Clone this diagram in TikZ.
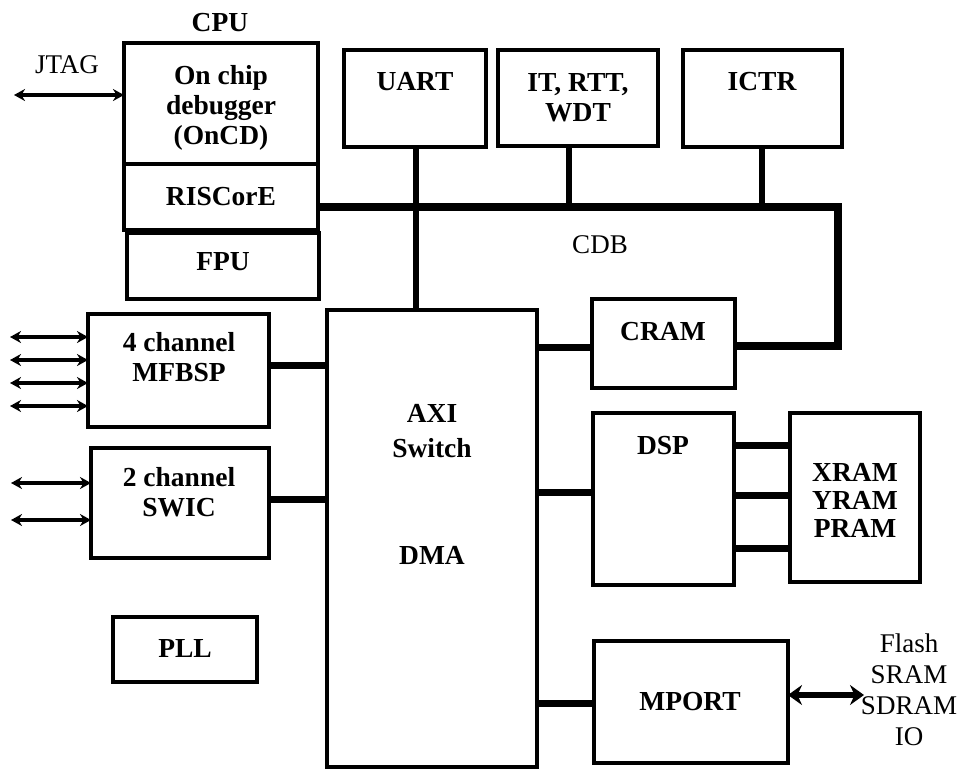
\documentclass[tikz,border=0pt]{standalone}
\usepackage{fontspec}
\setmainfont{Liberation Serif}
\usetikzlibrary{arrows.meta}
\tikzset{
  box/.style={draw, line width=4pt, inner sep=0pt, outer sep=0pt},
  lbl/.style={font=\fontsize{27.5}{30}\selectfont\bfseries, align=center, inner sep=0pt},
  plain/.style={font=\fontsize{27}{30}\selectfont, align=center, inner sep=0pt},
  conn/.style={line width=7pt},
  bus/.style={line width=8pt},
  stem/.style={line width=6pt},
  sig/.style={line width=3.5pt, {Stealth[length=11pt,width=12pt]}-{Stealth[length=11pt,width=12pt]}},
  bigsig/.style={line width=6pt, {Stealth[length=14pt,width=20pt]}-{Stealth[length=14pt,width=20pt]}},
}
\begin{document}
\begin{tikzpicture}[x=1pt,y=-1pt]
\useasboundingbox[fill=white] (0,0) rectangle (961,769);

% boxes
\node[box, minimum width=194pt, minimum height=121pt] (oncd) at (221,103.5) {};
\node[box, minimum width=194pt, minimum height=66pt] (risc) at (221,197) {};
\node[box, minimum width=192pt, minimum height=66pt] (fpu) at (223,266) {};
\node[box, minimum width=142pt, minimum height=97pt] (uart) at (415,98.5) {};
\node[box, minimum width=160pt, minimum height=96pt] (itr) at (578,98) {};
\node[box, minimum width=159pt, minimum height=97pt] (ictr) at (762.5,98.5) {};
\node[box, minimum width=181pt, minimum height=113pt] (mfbsp) at (178.5,370.5) {};
\node[box, minimum width=178pt, minimum height=110pt] (swic) at (180,503) {};
\node[box, minimum width=144pt, minimum height=65pt] (pll) at (185,649.5) {};
\node[box, minimum width=210pt, minimum height=457pt] (axi) at (432,538.5) {};
\node[box, minimum width=143pt, minimum height=89pt] (cram) at (663.5,343.5) {};
\node[box, minimum width=141pt, minimum height=172pt] (dsp) at (663.5,499) {};
\node[box, minimum width=130pt, minimum height=169pt] (xram) at (855,497.5) {};
\node[box, minimum width=194pt, minimum height=122pt] (mport) at (691,702) {};

% texts
\node[lbl] (cpuT) at (220,23) {CPU};
\node[plain] (jtagT) at (67,65) {JTAG};
\node[lbl] (oncdT) at (221,108) {On chip\\debugger\\(OnCD)};
\node[lbl] (riscT) at (221,197) {RISCorE};
\node[lbl] (fpuT) at (223,262) {FPU};
\node[lbl] (uartT) at (415,82) {UART};
\node[lbl] (itrT) at (578,98) {IT, RTT,\\WDT};
\node[lbl] (ictrT) at (762,82) {ICTR};
\node[plain] (cdbT) at (600,245) {CDB};
\node[lbl] (mfbspT) at (179,357) {4 channel\\MFBSP};
\node[lbl] (swicT) at (179,492) {2 channel\\SWIC};
\node[lbl] (pllT) at (185,648) {PLL};
\node[lbl] (axiT1) at (432,413) {AXI};
\node[lbl] (axiT2) at (432,448) {Switch};
\node[lbl] (axiT3) at (432,555) {DMA};
\node[lbl] (cramT) at (663,332) {CRAM};
\node[lbl] (dspT) at (663,446) {DSP};
\node[lbl, font=\fontsize{27.5}{28}\selectfont\bfseries] (xramT) at (855,500) {XRAM\\YRAM\\PRAM};
\node[lbl] (mportT) at (690,702) {MPORT};
\node[plain, font=\fontsize{27}{31}\selectfont] (memT) at (909,690) {Flash\\SRAM\\SDRAM\\IO};

% CDB bus
\coordinate (busEnd) at (838,207);
\draw[bus] (risc.east |- 0,207) -- (busEnd) |- (cram.east |- 0,346);
\draw[stem] (uart.south -| 416,0) -- (axi.north -| 416,0);
\draw[stem] (itr.south -| 569,0) -- (569,207);
\draw[stem] (ictr.south -| 762,0) -- (762,207);

% AXI connections
\draw[conn] (mfbsp.east |- 0,365) -- (axi.west |- 0,365);
\draw[conn] (swic.east |- 0,499) -- (axi.west |- 0,499);
\draw[conn] (axi.east |- 0,347) -- (cram.west |- 0,347);
\draw[conn] (axi.east |- 0,492) -- (dsp.west |- 0,492);
\draw[conn] (axi.east |- 0,703) -- (mport.west |- 0,703);

% DSP - XRAM
\draw[conn] (dsp.east |- 0,445) -- (xram.west |- 0,445);
\draw[conn] (dsp.east |- 0,495) -- (xram.west |- 0,495);
\draw[conn] (dsp.east |- 0,548) -- (xram.west |- 0,548);

% external signals
\coordinate (jtagL) at (14,95);
\draw[sig] (jtagL) -- (oncd.west |- jtagL);
\foreach \y [count=\i] in {337,360,383,406} {
  \coordinate (mL\i) at (10,\y);
  \draw[sig] (mL\i) -- (mfbsp.west |- mL\i);
}
\foreach \y [count=\i] in {483,520} {
  \coordinate (sL\i) at (11,\y);
  \draw[sig] (sL\i) -- (swic.west |- sL\i);
}
\coordinate (memL) at (864,695);
\draw[bigsig] (mport.east |- memL) -- (memL);
\end{tikzpicture}
\end{document}
